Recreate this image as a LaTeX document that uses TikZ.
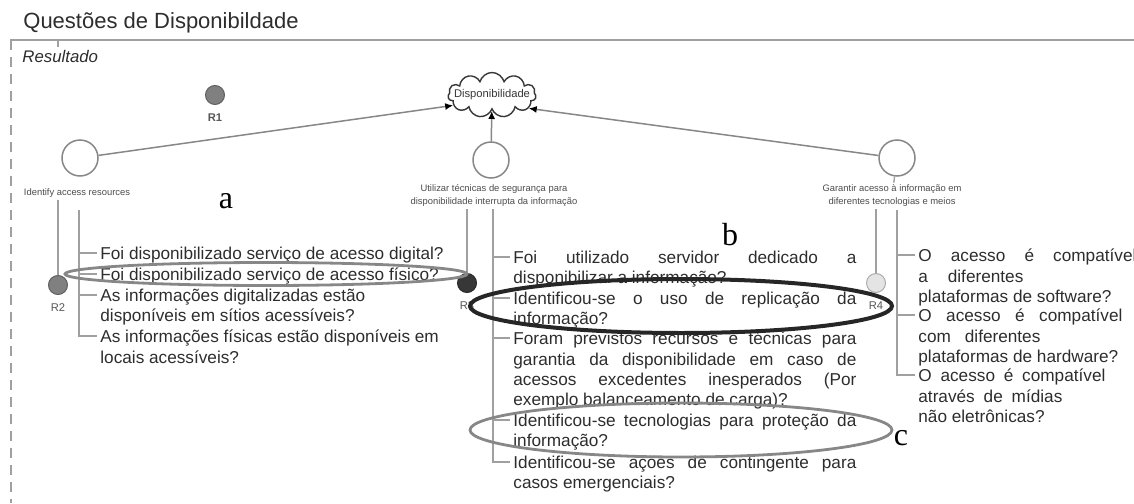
\documentclass[tikz,border=0pt]{standalone}
\usepackage{fontspec}
\setmainfont{Liberation Sans}
\newfontfamily\tagfont{Liberation Serif}
\usepackage{tikz}
\usetikzlibrary{shapes.symbols, arrows.meta}
\definecolor{qtext}{RGB}{45, 45, 45}
\definecolor{qline}{RGB}{135, 135, 135}
\definecolor{qstem}{RGB}{160, 160, 160}
\definecolor{qmid}{RGB}{128, 128, 128}
\definecolor{qdark}{RGB}{55, 55, 55}
\definecolor{qlight}{RGB}{228, 228, 228}
\newcommand{\fullline}[2]{\makebox[#1][s]{#2}}

\begin{document}
\begin{tikzpicture}[x=0.5pt, y=-0.5pt, every node/.style={text=qtext},
  goal/.style={circle, draw=qline, line width=0.75pt, fill=white, minimum size=18pt, inner sep=0pt},
  goaltxt/.style={font=\fontsize{4.7}{6.5}\selectfont, align=center, inner sep=1pt, text=qtext!85},
  rdot/.style={circle, fill=#1, draw=#1!75!black, line width=0.5pt, minimum size=9.5pt, inner sep=0pt},
  rlab/.style={font=\fontsize{5.6}{6}\selectfont, text=qtext!80, label distance=1pt},
  item/.style={anchor=north west, inner xsep=1.5pt, inner ysep=0pt, align=left, font=\fontsize{8.6}{10.2}\selectfont},
  stem/.style={draw=qstem, line width=0.7pt},
  link/.style={draw=qline, line width=0.75pt, -{Latex[length=4pt, width=3.5pt, color=black]}},
  tag/.style={anchor=base, inner sep=0pt, text=black, font=\tagfont\fontsize{16}{18}\selectfont}]
  \useasboundingbox (0,0) rectangle (1134,503);

  % frame and headings
  \draw[qstem, line width=1pt] (10,40) -- (1134,40);
  \draw[qstem, line width=1pt, dash pattern=on 5pt off 3.5pt] (11,40) -- (11,503);
  \draw[qstem, line width=0.6pt] (58,40) -- (58,47);
  \node[anchor=base west, inner sep=0pt, font=\fontsize{11}{13}\selectfont] (title) at (23,28) {Questões de Disponibildade};
  \node[anchor=base west, inner sep=0pt, font=\itshape\fontsize{8.4}{10}\selectfont] (result) at (22,62) {Resultado};

  % goal and sub-goals
  \node[cloud, cloud puffs=11, cloud ignores aspect, draw=qdark, line width=0.7pt, minimum width=44pt, minimum height=22.5pt, inner sep=0pt,
        label={[font=\fontsize{5.6}{6}\selectfont, text=qdark]center:Disponibilidade}] (cloud) at (492,95) {};
  \node[goal] (c1) at (80,158) {};
  \node[goal] (c2) at (491,160) {};
  \node[goal] (c3) at (897,158) {};
  \draw[link] (c1) -- (cloud.195);
  \draw[link] (c2) -- (cloud);
  \draw[link] (c3) -- (cloud.-20);
  \node[goaltxt] (labA) at (77,193) {Identify access resources};
  \node[goaltxt] (labB) at (494,196) {Utilizar técnicas de segurança para\\disponibilidade interrupta da informação};
  \node[goaltxt] (labC) at (892,196) {Garantir acesso à informação em\\diferentes tecnologias e meios};
  \draw[stem] (c3) -- (labC);

  % results
  \node[rdot=qmid, label={[rlab, font=\bfseries\fontsize{5.6}{6}\selectfont]below:R1}] (r1) at (215,95) {};
  \node[rdot=qmid, label={[rlab]below:R2}] (r2) at (58,285) {};
  \node[rdot=qdark, label={[rlab]below:R3}] (r3) at (467,283) {};
  \node[rdot=qlight, label={[rlab]below:R4}] (r4) at (876,283) {};
  \draw[stem] (labA.south -| r2) -- (r2);
  \draw[stem] (labB.south -| r3) -- (r3);
  \draw[stem] (labC.south -| r4) -- (r4);

  % questions
  \node[item] (A1) at (97,246.6) {Foi disponibilizado serviço de acesso digital?};
  \node[item] (A2) at (97,267.6) {Foi disponibilizado serviço de acesso físico?};
  \node[item] (A3) at (97,288.6) {As informações digitalizadas estão\\disponíveis em sítios acessíveis?};
  \node[item] (A4) at (97,329.6) {As informações físicas estão disponíveis em\\locais acessíveis?};

  \node[item] (B1) at (510,250.6) {\fullline{171.5pt}{Foi utilizado servidor dedicado a}\\disponibilizar a informação?};
  \node[item] (B2) at (510,291.6) {\fullline{171.5pt}{Identificou-se o uso de replicação da}\\informação?};
  \node[item] (B3) at (510,331.6) {\fullline{171.5pt}{Foram previstos recursos e técnicas para}\\\fullline{171.5pt}{garantia da disponibilidade em caso de}\\\fullline{171.5pt}{acessos excedentes inesperados (Por}\\exemplo balanceamento de carga)?};
  \node[item] (B4) at (510,413.6) {\fullline{171.5pt}{Identificou-se tecnologias para proteção da}\\informação?};
  \node[item] (B5) at (510,455.6) {\fullline{171.5pt}{Identificou-se ações de contingente para}\\casos emergenciais?};

  \node[item] (C1) at (915,248.6) {\fullline{109pt}{O acesso é compatível}\\\fullline{52.5pt}{a diferentes}\\plataformas de software?};
  \node[item] (C2) at (915,308.6) {\fullline{102pt}{O acesso é compatível}\\\fullline{61pt}{com diferentes}\\plataformas de hardware?};
  \node[item] (C3) at (915,368.6) {\fullline{93.5pt}{O acesso é compatível}\\\fullline{72pt}{através de mídias}\\não eletrônicas?};

  \coordinate (brA) at (79,210);
  \coordinate (brB) at (493,209);
  \coordinate (brC) at (897,210);
  \foreach \k in {1,...,4} { \draw[stem] (brA) |- ([yshift=-3.2pt]A\k.north west); }
  \foreach \k in {1,...,5} { \draw[stem] (brB) |- ([yshift=-3.2pt]B\k.north west); }
  \foreach \k in {1,...,3} { \draw[stem] (brC) |- ([yshift=-3.2pt]C\k.north west); }

  % highlights
  \draw[qline, line width=1.4pt] (266,274) ellipse [x radius=201, y radius=11.5];
  \draw[black!85, line width=2pt] (681,306) ellipse [x radius=211, y radius=27];
  \draw[qline, line width=1.4pt] (681,430) ellipse [x radius=211, y radius=27];
  \node[tag] (tagA) at (226,208) {a};
  \node[tag] (tagB) at (730,245) {b};
  \node[tag] (tagC) at (901,445) {c};
\end{tikzpicture}
\end{document}
